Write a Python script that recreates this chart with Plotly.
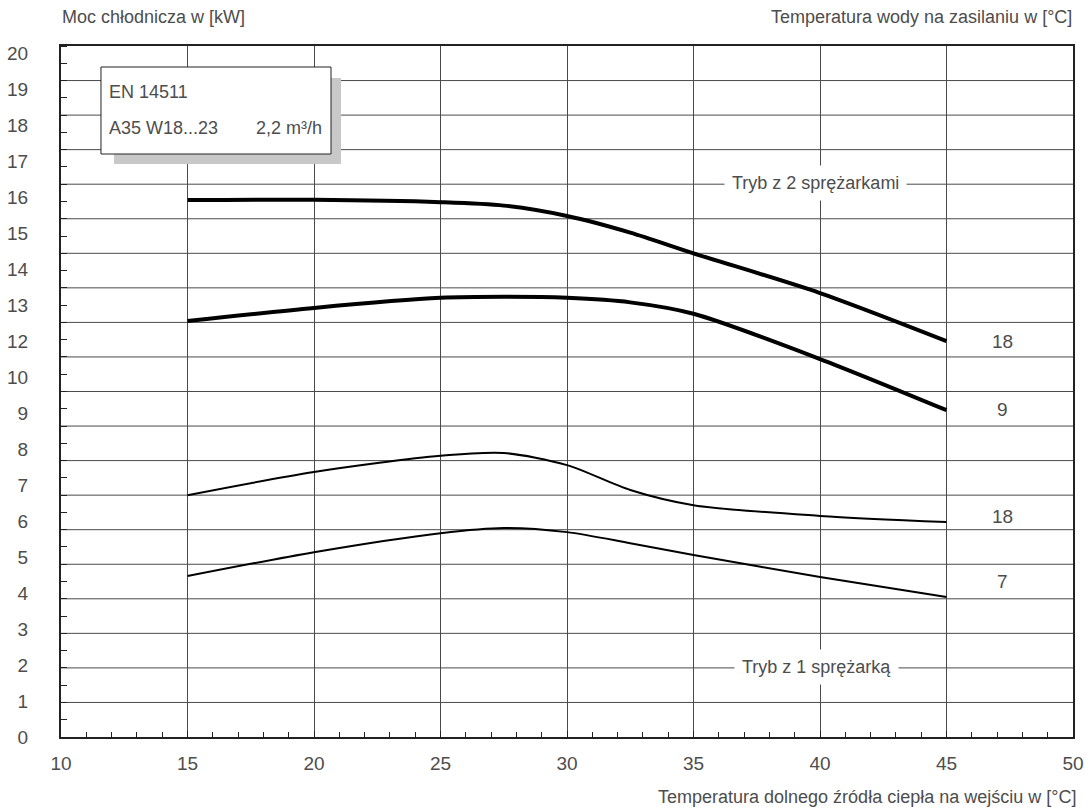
import plotly.graph_objects as go

# ---- data (kW as drawn on the chart grid) ----
x_pts = [15, 20, 25, 27.5, 30, 32.5, 35, 40, 45]
two_comp_18 = [15.54, 15.55, 15.48, 15.38, 15.08, 14.6, 14.0, 12.85, 11.46]
two_comp_9 = [12.04, 12.42, 12.71, 12.74, 12.71, 12.58, 12.25, 10.94, 9.46]
one_comp_18 = [7.0, 7.67, 8.14, 8.22, 7.87, 7.15, 6.71, 6.40, 6.22]
one_comp_7 = [4.66, 5.35, 5.90, 6.05, 5.93, 5.61, 5.27, 4.63, 4.05]

y_tick_labels = ["0", "1", "2", "3", "4", "5", "6", "7", "8", "9", "10",
                 "12", "13", "14", "15", "16", "17", "18", "19", "20"]
x_tick_labels = ["10", "15", "20", "25", "30", "35", "40", "45", "50"]

FONT = "Liberation Sans, Arial, sans-serif"
TXT = "#4d4d4d"
GRID = "#4a4a4a"

fig = go.Figure()
for ys, w in [(two_comp_18, 4), (two_comp_9, 4), (one_comp_18, 2), (one_comp_7, 2)]:
    fig.add_trace(go.Scatter(x=x_pts, y=ys, mode="lines",
                             line=dict(color="#000000", width=w, shape="spline", smoothing=0.8),
                             hoverinfo="skip"))

# horizontal grid lines
shapes = []
for g in range(1, 20):
    shapes.append(dict(type="line", xref="paper", yref="y", x0=0, x1=1, y0=g, y1=g,
                       line=dict(color=GRID, width=1), layer="below"))
# EN box with shadow
shapes.append(dict(type="rect", xref="paper", yref="paper", x0=0.0524, x1=0.2767,
                   y0=0.8292, y1=0.9537, fillcolor="#c8c8c8", line=dict(width=0), layer="above"))
shapes.append(dict(type="rect", xref="paper", yref="paper", x0=0.0395, x1=0.2668,
                   y0=0.8437, y1=0.9696, fillcolor="#ffffff", line=dict(color="#222", width=1),
                   layer="above"))

label_step = 36 / 34.55
annotations = [
    dict(text="Moc chłodnicza w [kW]", xref="paper", yref="paper", x=-0.001, y=1.042,
         xanchor="left", yanchor="middle", showarrow=False, font=dict(size=18, color=TXT)),
    dict(text="Temperatura wody na zasilaniu w [°C]", xref="paper", yref="paper", x=1.001, y=1.042,
         xanchor="right", yanchor="middle", showarrow=False, font=dict(size=18, color=TXT)),
    dict(text="Temperatura dolnego źródła ciepła na wejściu w [°C]", xref="paper", yref="paper",
         x=1.005, y=-0.0868, xanchor="right", yanchor="middle", showarrow=False,
         font=dict(size=18, color=TXT)),
    dict(text="EN 14511", xref="paper", yref="paper", x=0.0455, y=0.933, xanchor="left",
         yanchor="middle", showarrow=False, font=dict(size=18, color=TXT)),
    dict(text="A35 W18...23", xref="paper", yref="paper", x=0.0455, y=0.881, xanchor="left",
         yanchor="middle", showarrow=False, font=dict(size=18, color=TXT)),
    dict(text="2,2 m³/h", xref="paper", yref="paper", x=0.2603, y=0.881, xanchor="right",
         yanchor="middle", showarrow=False, font=dict(size=18, color=TXT)),
    dict(text="Tryb z 2 sprężarkami", xref="paper", yref="paper", x=0.7457, y=0.8017,
         xanchor="center", yanchor="middle", showarrow=False, bgcolor="#ffffff",
         borderpad=7, font=dict(size=18, color=TXT)),
    dict(text="Tryb z 1 sprężarką", xref="paper", yref="paper", x=0.7465, y=0.1013,
         xanchor="center", yanchor="middle", showarrow=False, bgcolor="#ffffff",
         borderpad=7, font=dict(size=18, color=TXT)),
]
for txt, py in [("18", 341), ("9", 410), ("18", 516), ("7", 581)]:
    annotations.append(dict(text=txt, xref="x", yref="paper", x=47.2, y=(737 - py) / 691,
                            xanchor="center", yanchor="middle", showarrow=False,
                            font=dict(size=19, color=TXT)))

fig.update_layout(
    width=1089, height=809,
    margin=dict(l=61, r=16, t=46, b=72, autoexpand=False),
    plot_bgcolor="#ffffff", paper_bgcolor="#ffffff",
    showlegend=False, hovermode=False,
    font=dict(family=FONT, color=TXT),
    shapes=shapes, annotations=annotations,
    xaxis=dict(range=[10, 50], tickmode="array", automargin=False,
               tickvals=[float(t) for t in x_tick_labels], ticktext=x_tick_labels,
               showgrid=True, gridcolor=GRID, gridwidth=1,
               ticks="inside", ticklen=6, tickcolor="#222",
               showline=True, linecolor="#222", linewidth=2, mirror=True,
               zeroline=False, ticklabelstandoff=8,
               tickfont=dict(size=19, color=TXT),
               minor=dict(tickmode="linear", tick0=10, dtick=1, ticks="inside",
                          ticklen=5, tickcolor="#222", showgrid=False)),
    yaxis=dict(range=[0, 20], tickmode="array", automargin=False,
               tickvals=[i * label_step for i in range(len(y_tick_labels))],
               ticktext=y_tick_labels, showgrid=False, ticks="",
               showline=True, linecolor="#222", linewidth=2, mirror=True,
               zeroline=False, ticklabelstandoff=27,
               tickfont=dict(size=19, color=TXT),
               minor=dict(tickmode="linear", tick0=0, dtick=0.5, ticks="inside",
                          ticklen=6, tickcolor="#222", showgrid=False)),
)

fig.write_html("out.html", config={"displayModeBar": False, "staticPlot": True},
               post_script="document.body.style.margin='0';document.body.style.padding='0';")
